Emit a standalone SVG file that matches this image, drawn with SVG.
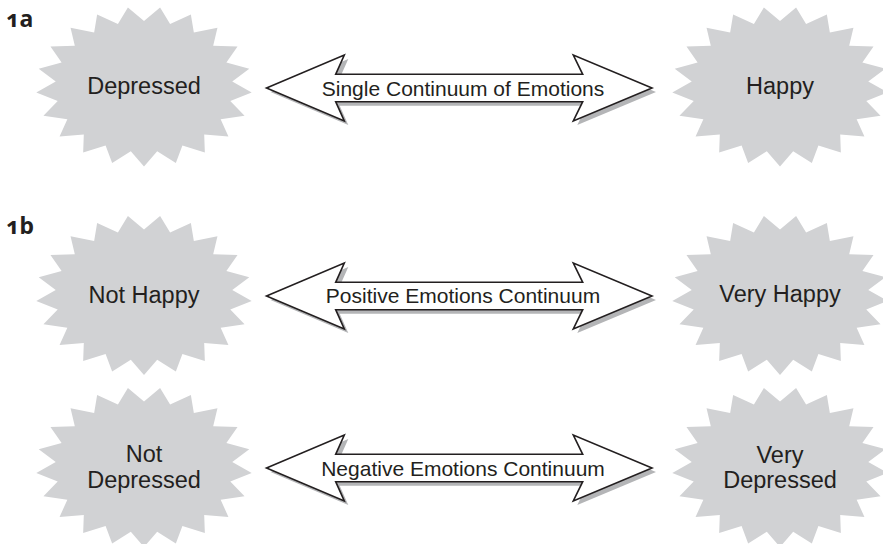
<svg xmlns="http://www.w3.org/2000/svg" xmlns:xlink="http://www.w3.org/1999/xlink" width="883" height="544" viewBox="0 0 883 544">
<style>
.star{fill:#d1d2d4;stroke:none}
.lbl{font-family:"Liberation Sans",Arial,Helvetica,sans-serif;font-size:23.5px;fill:#231f20;text-anchor:middle}
.alb{font-family:"Liberation Sans",Arial,Helvetica,sans-serif;font-size:21px;fill:#231f20;text-anchor:middle}
.sec{font-family:"Noto Sans","DejaVu Sans",sans-serif;font-weight:bold;font-size:23px;fill:#231f20;font-feature-settings:"onum" 1}
.arr{fill:#ffffff;stroke:#231f20;stroke-width:1.6;stroke-linejoin:miter}
.shd{fill:#b4b5b7;stroke:none}
</style>
<defs>
<path id="star" d="M0,80 L-13.19,64.77 L-31.84,76.45 L-38.4,59.02 L-60.84,66.1 L-60.2,48.02 L-84.43,49.88 L-76.64,32.75 L-100.54,29.22 L-86.28,14.57 L-107.7,5.98 L-88.25,-4.89 L-105.29,-17.8 L-82.38,-23.93 L-93.53,-40 L-69.19,-40.84 L-73.46,-58.65 L-49.85,-54.12 L-46.86,-72.08 L-26.09,-62.59 L-16.09,-79.1 L0,-65.5 L16.09,-79.1 L26.09,-62.59 L46.86,-72.08 L49.85,-54.12 L73.46,-58.65 L69.19,-40.84 L93.53,-40 L82.38,-23.93 L105.29,-17.8 L88.25,-4.89 L107.7,5.98 L86.28,14.57 L100.54,29.22 L76.64,32.75 L84.43,49.88 L60.2,48.02 L60.84,66.1 L38.4,59.02 L31.84,76.45 L13.19,64.77 Z"/>
<path id="darrow" d="M266.5,0 L344.3,-33 L335.7,-13.7 L582.7,-13.7 L573.3,-33 L652,0 L573.3,33 L582.7,13.7 L335.7,13.7 L344.3,33 Z"/>
</defs>
<text class="sec" x="6" y="27">1a</text>
<text class="sec" x="6" y="234">1b</text>
<g id="connectors">
<g id="arrow-single">
<use xlink:href="#darrow" class="shd" transform="translate(4,92)"/>
<use xlink:href="#darrow" class="arr" transform="translate(0,88)"/>
<text class="alb" x="463" y="95.7">Single Continuum of Emotions</text>
</g>
<g id="arrow-positive">
<use xlink:href="#darrow" class="shd" transform="translate(4,300)"/>
<use xlink:href="#darrow" class="arr" transform="translate(0,296)"/>
<text class="alb" x="463" y="303.3">Positive Emotions Continuum</text>
</g>
<g id="arrow-negative">
<use xlink:href="#darrow" class="shd" transform="translate(4,472)"/>
<use xlink:href="#darrow" class="arr" transform="translate(0,468)"/>
<text class="alb" x="463" y="476">Negative Emotions Continuum</text>
</g>
</g>
<g id="node-depressed">
<use xlink:href="#star" class="star" transform="translate(144,86.5)"/>
<text class="lbl" x="144" y="94.3">Depressed</text>
</g>
<g id="node-happy">
<use xlink:href="#star" class="star" transform="translate(780,86.5)"/>
<text class="lbl" x="780" y="94.3">Happy</text>
</g>
<g id="node-not-happy">
<use xlink:href="#star" class="star" transform="translate(144,295)"/>
<text class="lbl" x="144" y="302.5">Not Happy</text>
</g>
<g id="node-very-happy">
<use xlink:href="#star" class="star" transform="translate(780,295)"/>
<text class="lbl" x="780" y="302">Very Happy</text>
</g>
<g id="node-not-depressed">
<use xlink:href="#star" class="star" transform="translate(144,467)"/>
<text class="lbl" x="144" y="462">Not</text>
<text class="lbl" x="144" y="488.3">Depressed</text>
</g>
<g id="node-very-depressed">
<use xlink:href="#star" class="star" transform="translate(780,467)"/>
<text class="lbl" x="780" y="463">Very</text>
<text class="lbl" x="780" y="488.3">Depressed</text>
</g>
</svg>
